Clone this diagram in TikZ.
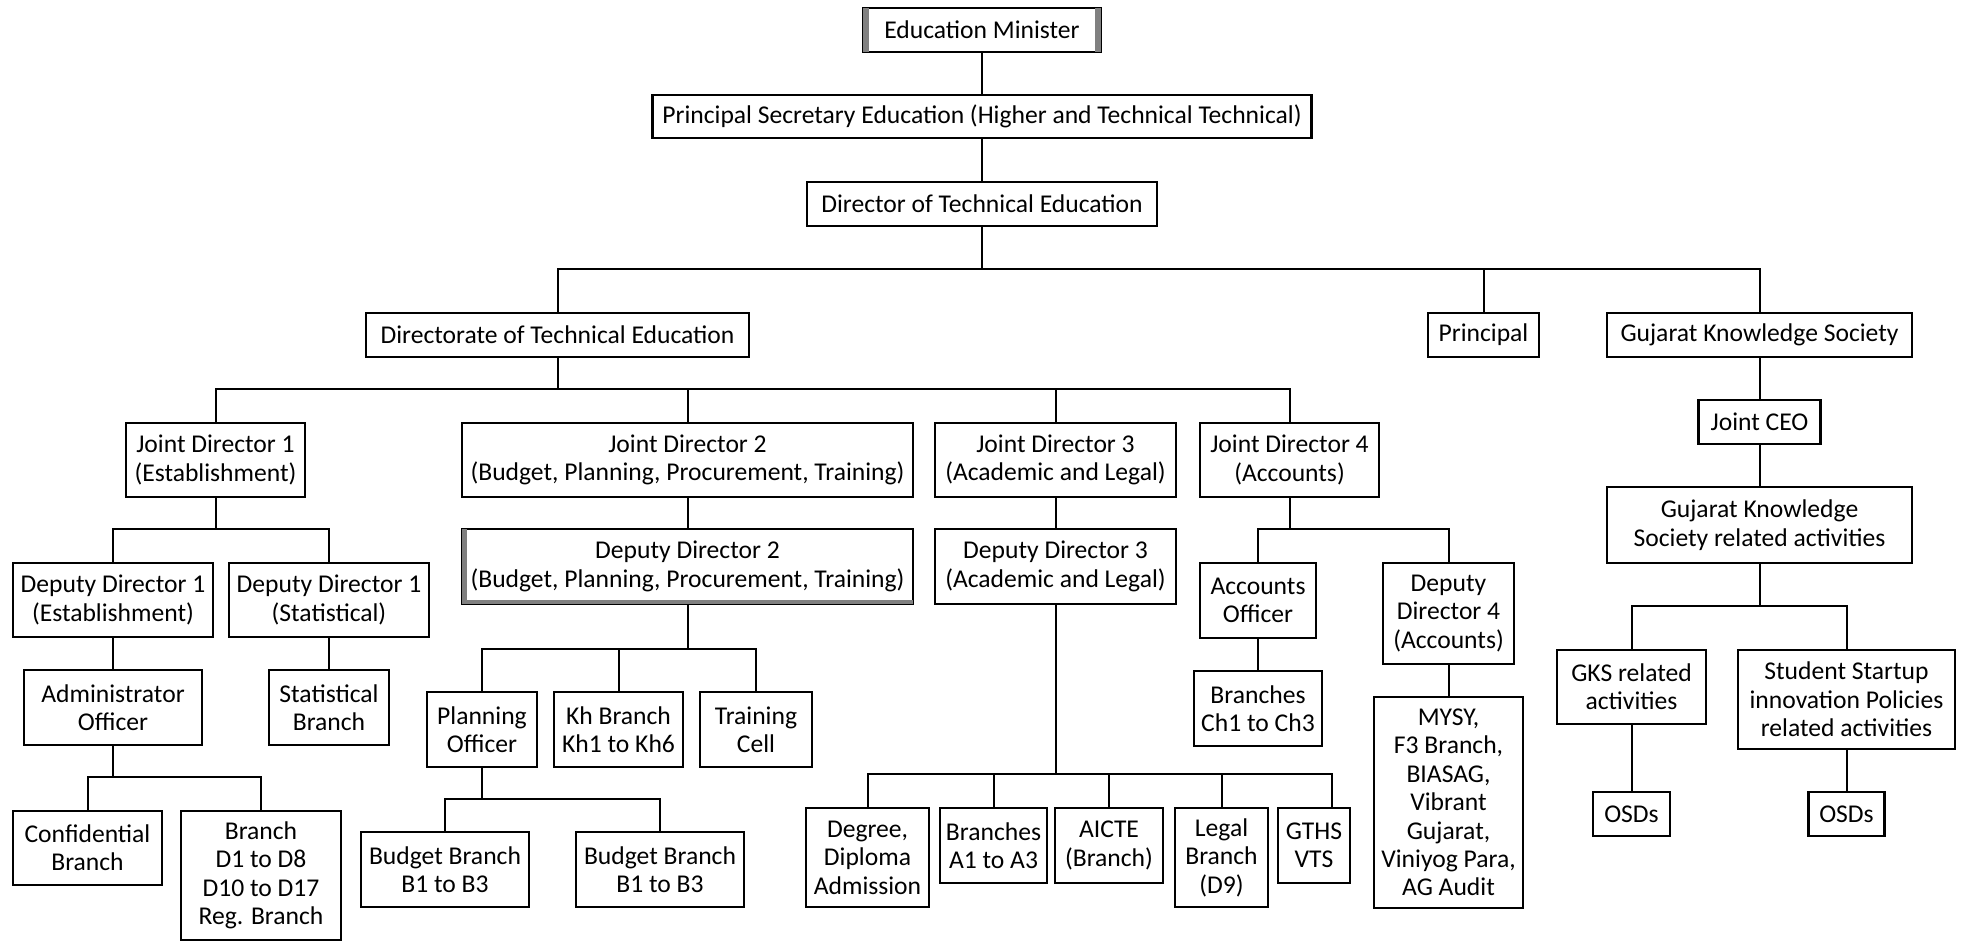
\documentclass[tikz,border=0pt]{standalone}
\usepackage{fontspec}
\setmainfont{Carlito}
\begin{document}
\begin{tikzpicture}[x=1pt,y=-1pt,
  box/.style={draw=black, line width=2.2pt, fill=white, align=center, inner sep=0pt,
              font=\fontsize{25.6}{28.4}\selectfont, text=black},
  link/.style={draw=black, line width=2pt},
  bevel/.style={fill=black!50}]
\useasboundingbox (0,0) rectangle (1966,941);

% ---- top chain ----
\node[box,minimum width=238,minimum height=44] (edu) at (982,30) {Education Minister};
\node[box,minimum width=659,minimum height=43] (psec) at (982,116.5) {Principal Secretary Education (Higher and Technical Technical)};
\node[box,minimum width=350,minimum height=44] (dir) at (982,204) {Director of Technical Education};

% ---- second level ----
\node[box,minimum width=383,minimum height=44] (dte) at (557.5,335) {Directorate of Technical Education};
\node[box,minimum width=111,minimum height=44] (prin) at (1483.5,335) {Principal};
\node[box,minimum width=305,minimum height=44] (gks) at (1759.5,335) {Gujarat Knowledge Society};

% ---- joint directors ----
\node[box,minimum width=179,minimum height=74] (jd1) at (215.5,460) {Joint Director 1\\(Establishment)};
\node[box,minimum width=451,minimum height=74] (jd2) at (687.5,460) {Joint Director 2\\(Budget, Planning, Procurement, Training)};
\node[box,minimum width=241,minimum height=74] (jd3) at (1055.5,460) {Joint Director 3\\(Academic and Legal)};
\node[box,minimum width=179,minimum height=74] (jd4) at (1289.5,460) {Joint Director 4\\(Accounts)};

% ---- deputy directors ----
\node[box,minimum width=200,minimum height=74] (dd1e) at (113,600) {Deputy Director 1\\(Establishment)};
\node[box,minimum width=200,minimum height=74] (dd1s) at (329,600) {Deputy Director 1\\(Statistical)};
\node[box,minimum width=451,minimum height=75] (dd2) at (687.5,566.5) {Deputy Director 2\\(Budget, Planning, Procurement, Training)};
\node[box,minimum width=241,minimum height=75] (dd3) at (1055.5,566.5) {Deputy Director 3\\(Academic and Legal)};
\node[box,minimum width=116,minimum height=75] (acc) at (1258,600.5) {Accounts\\Officer};
\node[box,minimum width=131,minimum height=101] (dd4) at (1448.5,613.5) {Deputy\\Director 4\\(Accounts)};

% ---- establishment branch ----
\node[box,minimum width=178,minimum height=75] (adm) at (113,707.5) {Administrator\\Officer};
\node[box,minimum width=120,minimum height=75] (stb) at (329,707.5) {Statistical\\Branch};
\node[box,minimum width=149,minimum height=74] (conf) at (87.5,848) {Confidential\\Branch};
\node[box,minimum width=160,minimum height=129] (brd) at (261,875.5) {Branch\\D1 to D8\\D10 to D17\\Reg. Branch};

% ---- budget / planning branch ----
\node[box,minimum width=110,minimum height=75] (plan) at (482,729.5) {Planning\\Officer};
\node[box,minimum width=129,minimum height=75] (kh) at (618.5,729.5) {Kh Branch\\Kh1 to Kh6};
\node[box,minimum width=112,minimum height=75] (trc) at (756,729.5) {Training\\Cell};
\node[box,minimum width=168,minimum height=75] (bud1) at (445,869.5) {Budget Branch\\B1 to B3};
\node[box,minimum width=168,minimum height=75] (bud2) at (660,869.5) {Budget Branch\\B1 to B3};

% ---- academic and legal branch ----
\node[box,minimum width=123,minimum height=99] (deg) at (867.5,857.5) {Degree,\\Diploma\\Admission};
\node[box,minimum width=107,minimum height=75] (bra) at (993.5,845.5) {Branches\\A1 to A3};
\node[box,minimum width=108,minimum height=75] (aicte) at (1109,845.5) {AICTE\\(Branch)};
\node[box,minimum width=93,minimum height=99] (legal) at (1221.5,857.5) {Legal\\Branch\\(D9)};
\node[box,minimum width=72,minimum height=75] (gths) at (1314,845.5) {GTHS\\VTS};

% ---- accounts branch ----
\node[box,minimum width=128,minimum height=75] (ch) at (1258,708.5) {Branches\\Ch1 to Ch3};
\node[box,minimum width=149,minimum height=211] (mysy) at (1448.5,802.5) {MYSY,\\F3 Branch,\\BIASAG,\\Vibrant\\Gujarat,\\Viniyog Para,\\AG Audit};

% ---- knowledge society ----
\node[box,minimum width=122,minimum height=44] (jceo) at (1759.5,422) {Joint CEO};
\node[box,minimum width=305,minimum height=76] (gksa) at (1759.5,525) {Gujarat Knowledge\\Society related activities};
\node[box,minimum width=149,minimum height=74] (gksr) at (1631.5,687) {GKS related\\activities};
\node[box,minimum width=217,minimum height=99] (ssip) at (1846.5,699.5) {Student Startup\\innovation Policies\\related activities};
\node[box,minimum width=77,minimum height=44] (osd1) at (1631.5,814) {OSDs};
\node[box,minimum width=76,minimum height=44] (osd2) at (1846.5,814) {OSDs};

% ---- bevelled edges ----
\fill[bevel] ([xshift=1.1pt,yshift=-1.1pt]edu.north west) rectangle ([xshift=7pt,yshift=1.1pt]edu.south west);
\fill[bevel] ([xshift=-1.1pt,yshift=-1.1pt]edu.north east) rectangle ([xshift=-7pt,yshift=1.1pt]edu.south east);
\fill[bevel] ([xshift=1.1pt,yshift=-1.1pt]dd2.north west) rectangle ([xshift=6pt,yshift=1.1pt]dd2.south west);
\fill[bevel] ([xshift=1.1pt,yshift=1.1pt]dd2.south west) rectangle ([xshift=-1.1pt,yshift=5pt]dd2.south east);

% ---- bus junctions ----
\coordinate (b0) at (982,269);
\coordinate (b1) at (557.5,389);
\coordinate (b2) at (215.5,529);
\coordinate (b3) at (113,777);
\coordinate (b4) at (687.5,649);
\coordinate (b5) at (482,799);
\coordinate (b6) at (1055.5,774);
\coordinate (g6) at (1332,774);
\coordinate (b7) at (1289.5,529);
\coordinate (b8) at (1759.5,606);

% ---- connectors ----
\draw[link] (edu) -- (psec);
\draw[link] (psec) -- (dir);
\draw[link] (dir.south) -- (b0);
\draw[link] (dte.north) |- (b0) -| (gks.north);
\draw[link] (prin.north) -- (prin.north |- b0);

\draw[link] (dte.south) -- (b1);
\draw[link] (jd1.north) |- (b1) -| (jd4.north);
\draw[link] (jd2.north) -- (jd2.north |- b1);
\draw[link] (jd3.north) -- (jd3.north |- b1);

\draw[link] (jd1.south) -- (b2);
\draw[link] (dd1e.north) |- (b2) -| (dd1s.north);
\draw[link] (dd1e) -- (adm);
\draw[link] (dd1s) -- (stb);
\draw[link] (adm.south) -- (b3);
\draw[link] (conf.north) |- (b3) -| (brd.north);

\draw[link] (jd2) -- (dd2);
\draw[link] (dd2.south) -- (b4);
\draw[link] (plan.north) |- (b4) -| (trc.north);
\draw[link] (kh.north) -- (kh.north |- b4);
\draw[link] (plan.south) -- (b5);
\draw[link] (bud1.north) |- (b5) -| (bud2.north);

\draw[link] (jd3) -- (dd3);
\draw[link] (dd3.south) -- (b6);
\draw[link] (deg.north) |- (b6) -- (g6) -- (g6 |- gths.north);
\draw[link] (bra.north) -- (bra.north |- b6);
\draw[link] (aicte.north) -- (aicte.north |- b6);
\draw[link] (legal.north) -- (legal.north |- b6);

\draw[link] (jd4.south) -- (b7);
\draw[link] (acc.north) |- (b7) -| (dd4.north);
\draw[link] (acc) -- (ch);
\draw[link] (dd4) -- (mysy);

\draw[link] (gks) -- (jceo);
\draw[link] (jceo) -- (gksa);
\draw[link] (gksa.south) -- (b8);
\draw[link] (gksr.north) |- (b8) -| (ssip.north);
\draw[link] (gksr) -- (osd1);
\draw[link] (ssip) -- (osd2);
\end{tikzpicture}
\end{document}
